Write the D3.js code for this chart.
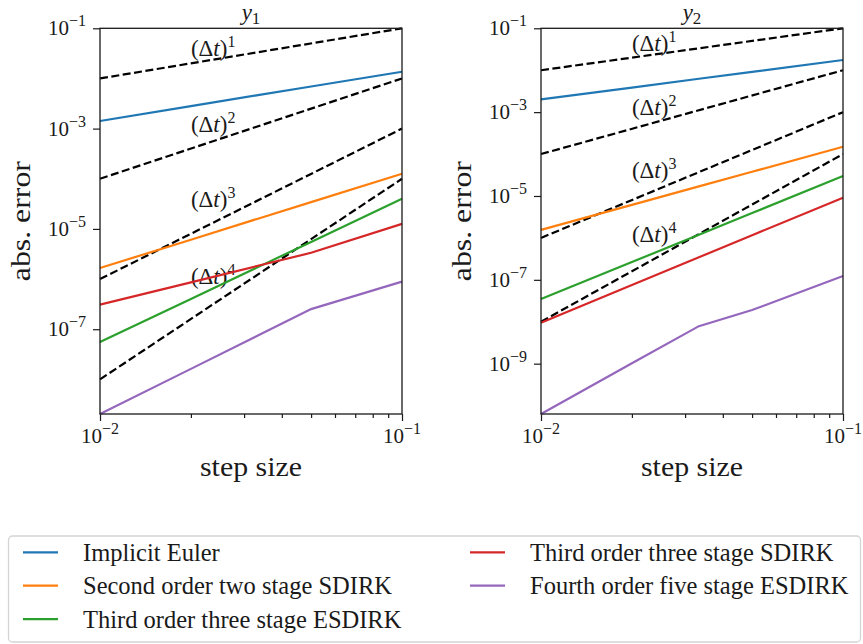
<!DOCTYPE html>
<html>
<head>
<meta charset="utf-8">
<script src="https://cdn.jsdelivr.net/npm/d3@7"></script>
<style>
body { margin: 0; background: #fff; }
svg text { fill: #1a1a1a; }
</style>
</head>
<body>
<svg id="chart" width="863" height="644" font-family="'Liberation Serif', 'DejaVu Serif', serif"></svg>
<script>
// step sizes of the convergence runs
const stepSizes = [0.01, 0.02, 1 / 30, 0.05, 0.1];

const methodNames = [
    "Implicit Euler",
    "Second order two stage SDIRK",
    "Third order three stage ESDIRK",
    "Third order three stage SDIRK",
    "Fourth order five stage ESDIRK"
];
const methodColors = ["#1f77b4", "#ff7f0e", "#2ca02c", "#d62728", "#9467bd"];

// abs. error of y1
const y1Euler   = [1.42e-3, 2.81e-3, 4.65e-3, 6.9e-3, 1.36e-2];
const y1Sdirk2  = [1.66e-6, 6.1e-6, 1.6e-5, 3.42e-5, 1.26e-4];
const y1Esdirk3 = [5.56e-8, 4.0e-7, 1.73e-6, 5.5e-6, 3.98e-5];
const y1Sdirk3  = [3.09e-7, 8.6e-7, 1.84e-6, 3.34e-6, 1.26e-5];
const y1Esdirk4 = [2.04e-9, 1.62e-8, 7.5e-8, 2.52e-7, 8.9e-7];

// abs. error of y2
const y2Euler   = [2.02e-3, 3.86e-3, 6.25e-3, 9.14e-3, 1.75e-2];
const y2Sdirk2  = [1.55e-6, 6.12e-6, 1.69e-5, 3.78e-5, 1.49e-4];
const y2Esdirk3 = [3.47e-8, 2.65e-7, 1.19e-6, 3.91e-6, 2.99e-5];
const y2Sdirk3  = [9.5e-9, 7.5e-8, 3.45e-7, 1.16e-6, 9.1e-6];
const y2Esdirk4 = [6.3e-11, 1.02e-9, 7.85e-9, 1.9e-8, 1.23e-7];

// reference slopes (dt)^p
const refSteps = [0.01, 0.1];
const refOrders = [1, 2, 3, 4];
const refValues = [[1e-2, 1e-1], [1e-4, 1e-2], [1e-6, 1e-3], [1e-8, 1e-4]];
const refLabelStep = 0.02;
const refLabelValues = [2.82e-2, 8.5e-4, 2.7e-5, 7.9e-7];

// ticks
const xTicks = [0.01, 0.1];
const xTickExps = ["−2", "−1"];
const xMinorTicks = [0.02, 0.03, 0.04, 0.05, 0.06, 0.07, 0.08, 0.09];
const y1Ticks = [1e-1, 1e-3, 1e-5, 1e-7];
const y1TickExps = ["−1", "−3", "−5", "−7"];
const y2Ticks = [1e-1, 1e-3, 1e-5, 1e-7, 1e-9];
const y2TickExps = ["−1", "−3", "−5", "−7", "−9"];

const svg = d3.select("#chart");

/**
 * Draws one error panel
 * @param cfg left/right/top/bottom of the plot box, series, ticks, title
 */
function errorPanel(cfg) {
    let g = svg.append("g");

    let allValues = cfg.series.flat().concat(refValues.flat());
    let x = d3.scaleLog().domain([stepSizes[0], stepSizes[stepSizes.length - 1]])
        .range([cfg.left, cfg.right]);
    let y = d3.scaleLog().domain(d3.extent(allValues))
        .range([cfg.bottom, cfg.top]);

    // x axis, major + minor ticks, labels drawn by hand for the superscripts
    let xAxis = g.append("g").attr("transform", `translate(0,${cfg.bottom})`);
    xAxis.call(d3.axisBottom(x).tickValues(xTicks).tickSize(7).tickFormat(""));
    xAxis.append("g").call(d3.axisBottom(x).tickValues(xMinorTicks).tickSize(4).tickFormat(""));
    xAxis.selectAll(".domain").remove();
    xAxis.selectAll("line").attr("stroke", "#1a1a1a").attr("stroke-width", 1.2);

    xTicks.forEach((t, i) => {
        let tx = g.append("text")
            .attr("x", x(t))
            .attr("y", cfg.bottom + 29)
            .attr("text-anchor", "middle")
            .attr("font-size", 21);
        tx.append("tspan").text("10");
        tx.append("tspan").text(xTickExps[i]).attr("dy", -9).attr("font-size", 16);
    });

    let yAxis = g.append("g").attr("transform", `translate(${cfg.left},0)`);
    yAxis.call(d3.axisLeft(y).tickValues(cfg.yTicks).tickSize(7).tickFormat(""));
    yAxis.selectAll(".domain").remove();
    yAxis.selectAll("line").attr("stroke", "#1a1a1a").attr("stroke-width", 1.2);

    cfg.yTicks.forEach((t, i) => {
        let ty = g.append("text")
            .attr("x", cfg.left - 14)
            .attr("y", y(t) + 7)
            .attr("text-anchor", "end")
            .attr("font-size", 21);
        ty.append("tspan").text("10");
        ty.append("tspan").text(cfg.yTickExps[i]).attr("dy", -9).attr("font-size", 16);
    });

    let line = d3.line()
        .x((d, i) => x(stepSizes[i]))
        .y(d => y(d));

    // reference lines
    refValues.forEach(vals => {
        g.append("path")
            .datum(vals)
            .attr("d", d3.line().x((d, i) => x(refSteps[i])).y(d => y(d)))
            .attr("fill", "none")
            .attr("stroke", "black")
            .attr("stroke-width", 2.2)
            .attr("stroke-dasharray", "8,3.5");
    });

    refOrders.forEach((p, i) => {
        let lbl = g.append("text")
            .attr("x", x(refLabelStep))
            .attr("y", y(refLabelValues[i]))
            .attr("font-size", 23);
        lbl.append("tspan").text("(Δ");
        lbl.append("tspan").text("t").attr("font-style", "italic");
        lbl.append("tspan").text(")");
        lbl.append("tspan").text(p).attr("dy", -9).attr("font-size", 16);
    });

    // method curves
    cfg.series.forEach((vals, i) => {
        g.append("path")
            .datum(vals)
            .attr("d", line)
            .attr("fill", "none")
            .attr("stroke", methodColors[i])
            .attr("stroke-width", 2.2);
    });

    // frame
    g.append("rect")
        .attr("x", cfg.left)
        .attr("y", cfg.top)
        .attr("width", cfg.right - cfg.left)
        .attr("height", cfg.bottom - cfg.top)
        .attr("fill", "none")
        .attr("stroke", "#1a1a1a")
        .attr("stroke-width", 1.3);

    // title y_n
    let title = g.append("text")
        .attr("x", (cfg.left + cfg.right) / 2)
        .attr("y", cfg.top - 8)
        .attr("text-anchor", "middle")
        .attr("font-size", 23);
    title.append("tspan").text("y").attr("font-style", "italic");
    title.append("tspan").text(cfg.titleSub).attr("dy", 4).attr("font-size", 17);

    g.append("text")
        .text("step size")
        .attr("x", (cfg.left + cfg.right) / 2)
        .attr("y", cfg.bottom + 62)
        .attr("text-anchor", "middle")
        .attr("font-size", 28)
        .attr("textLength", 102)
        .attr("lengthAdjust", "spacingAndGlyphs");

    g.append("text")
        .text("abs. error")
        .attr("transform", `translate(${cfg.left - cfg.ylabelGap},${(cfg.top + cfg.bottom) / 2}) rotate(-90)`)
        .attr("text-anchor", "middle")
        .attr("font-size", 28)
        .attr("textLength", 120)
        .attr("lengthAdjust", "spacingAndGlyphs");
}

errorPanel({
    left: 100, right: 402, top: 28.3, bottom: 414,
    series: [y1Euler, y1Sdirk2, y1Esdirk3, y1Sdirk3, y1Esdirk4],
    yTicks: y1Ticks, yTickExps: y1TickExps,
    titleSub: "1", ylabelGap: 70
});

errorPanel({
    left: 541, right: 843, top: 28.3, bottom: 414,
    series: [y2Euler, y2Sdirk2, y2Esdirk3, y2Sdirk3, y2Esdirk4],
    yTicks: y2Ticks, yTickExps: y2TickExps,
    titleSub: "2", ylabelGap: 70
});

// legend, two columns
let legend = svg.append("g");
legend.append("rect")
    .attr("x", 8.5)
    .attr("y", 536)
    .attr("width", 852)
    .attr("height", 106)
    .attr("rx", 4)
    .attr("fill", "white")
    .attr("stroke", "#d4d4d4")
    .attr("stroke-width", 1.3);

methodNames.forEach((name, i) => {
    let col = i < 3 ? 0 : 1;
    let row = i < 3 ? i : i - 3;
    let lx = col === 0 ? 23 : 470;
    let ly = 552.3 + row * 33.4;
    legend.append("line")
        .attr("x1", lx)
        .attr("x2", lx + 35)
        .attr("y1", ly)
        .attr("y2", ly)
        .attr("stroke", methodColors[i])
        .attr("stroke-width", 2.2);
    legend.append("text")
        .text(name)
        .attr("x", lx + 60)
        .attr("y", ly + 8.4)
        .attr("font-size", 24.5);
});
</script>
</body>
</html>
